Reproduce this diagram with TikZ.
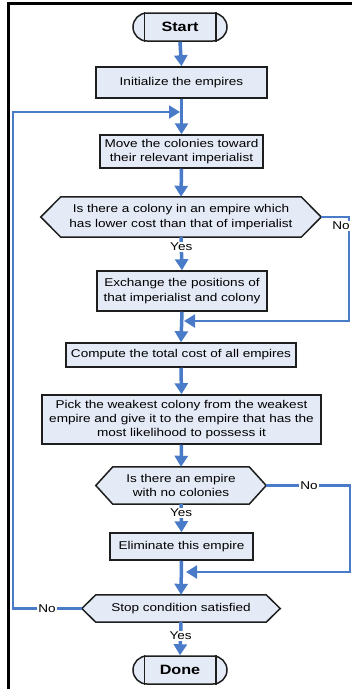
\documentclass[tikz,border=0pt]{standalone}
\usepackage{fontspec}
\setmainfont{Liberation Sans}[FakeStretch=1.2]
\usetikzlibrary{arrows.meta,backgrounds}
\definecolor{fillc}{HTML}{E4EAF6}
\definecolor{flowc}{HTML}{4A7BC8}
\definecolor{boxc}{HTML}{1E1E1E}
\tikzset{
  box/.style={draw=boxc, line width=1.5pt, fill=fillc, align=center, inner sep=0pt,
    font=\fontsize{11.3}{14.2}\selectfont},
  hexnode/.style={align=center, inner sep=0pt, font=\fontsize{11.3}{14.2}\selectfont},
  hexline/.style={draw=boxc, line width=1.5pt, fill=fillc},
  term/.style={draw=boxc, line width=1.5pt, fill=fillc, rounded corners=14pt, inner sep=0pt,
    minimum width=94pt, minimum height=28pt, font=\fontsize{13.5}{16}\selectfont\bfseries},
  flow/.style={draw=flowc, line width=3.5pt, -{Triangle[width=13pt,length=11pt]}},
  loopline/.style={draw=flowc, line width=2.2pt, -{Triangle[width=13pt,length=11pt]}},
  lab/.style={fill=white, inner sep=1pt, font=\fontsize{11.3}{13}\selectfont},
}
\newcommand\hexdraw[2]{%
  \draw[hexline] (#1.west) -- ([xshift=#2]#1.north west) -- ([xshift=-#2]#1.north east)
    -- (#1.east) -- ([xshift=-#2]#1.south east) -- ([xshift=#2]#1.south west) -- cycle;}
\newcommand\termbars[1]{%
  \draw[boxc, line width=1.5pt] ([xshift=12pt]#1.north west) -- ([xshift=12pt]#1.south west);
  \draw[boxc, line width=1.5pt] ([xshift=-12pt]#1.north east) -- ([xshift=-12pt]#1.south east);}
\begin{document}
\begin{tikzpicture}[x=1pt, y=-1pt]
\useasboundingbox (0,0) rectangle (352,689);
% frame
\draw[black, line width=2.2pt] (8.5,689) -- (8.5,3.5) -- (352,3.5);

% nodes
\node[term] (start) at (180,27) {Start};
\termbars{start}
\node[box, minimum width=171pt, minimum height=31pt] (init) at (181.5,82.5) {Initialize the empires};
\node[box, minimum width=163pt, minimum height=33pt] (move) at (181.5,151.5) {Move the colonies toward\\their relevant imperialist};
\node[hexnode, minimum width=280pt, minimum height=40pt] (d1) at (181,217) {Is there a colony in an empire which\\has lower cost than that of imperialist};
\node[box, minimum width=170pt, minimum height=40pt] (exch) at (182,291) {Exchange the positions of\\that imperialist and colony};
\node[box, minimum width=230pt, minimum height=24pt] (comp) at (181,355) {Compute the total cost of all empires};
\node[box, minimum width=279pt, minimum height=49pt] (pick) at (181.5,419.5) {Pick the weakest colony from the weakest\\empire and give it to the empire that has the\\most likelihood to possess it};
\node[hexnode, minimum width=170pt, minimum height=37pt] (d2) at (181,485.5) {Is there an empire\\with no colonies};
\node[box, minimum width=143pt, minimum height=27pt] (elim) at (181.5,546.5) {Eliminate this empire};
\node[hexnode, minimum width=198pt, minimum height=27pt] (stop) at (181,608.5) {Stop condition satisfied};
\node[term] (done) at (180,670) {Done};
\termbars{done}

\begin{scope}[on background layer]
  \hexdraw{d1}{20pt}
  \hexdraw{d2}{17pt}
  \hexdraw{stop}{14pt}
\end{scope}

% join points
\coordinate (j0) at (180,112);
\coordinate (j1) at (184,321);
\coordinate (j2) at (186,572);

% main flow
\draw[flow] (start.south) -- (init.north);
\draw[flow] (init.south) -- (move.north);
\draw[flow] (move.south) -- (d1.north);
\draw[flow] (d1.south) -- (exch.north) node[lab, pos=0.3] (y1) {Yes};
\draw[flow] (exch.south) -- (comp.north);
\draw[flow] (comp.south) -- (pick.north);
\draw[flow] (pick.south) -- (d2.north);
\draw[flow] (d2.south) -- (elim.north) node[lab, pos=0.31] (y2) {Yes};
\draw[flow] (elim.south) -- (stop.north);
\draw[flow] (stop.south) -- (done.north) node[lab, pos=0.41] (y3) {Yes};

% no branches
\draw[loopline] (d1.east) -- (349,217) -- (349,321) -- (j1);
\node[lab] (n1) at (341,226) {No};
\draw[loopline] (d2.east) -- (350,485.5) -- (350,572) -- (j2);
\node[lab] (n2) at (309,485.5) {No};
\draw[loopline] (stop.west) -- (13,608.5) -- (13,112) -- (j0);
\node[lab] (n3) at (47,608.5) {No};
\end{tikzpicture}
\end{document}
